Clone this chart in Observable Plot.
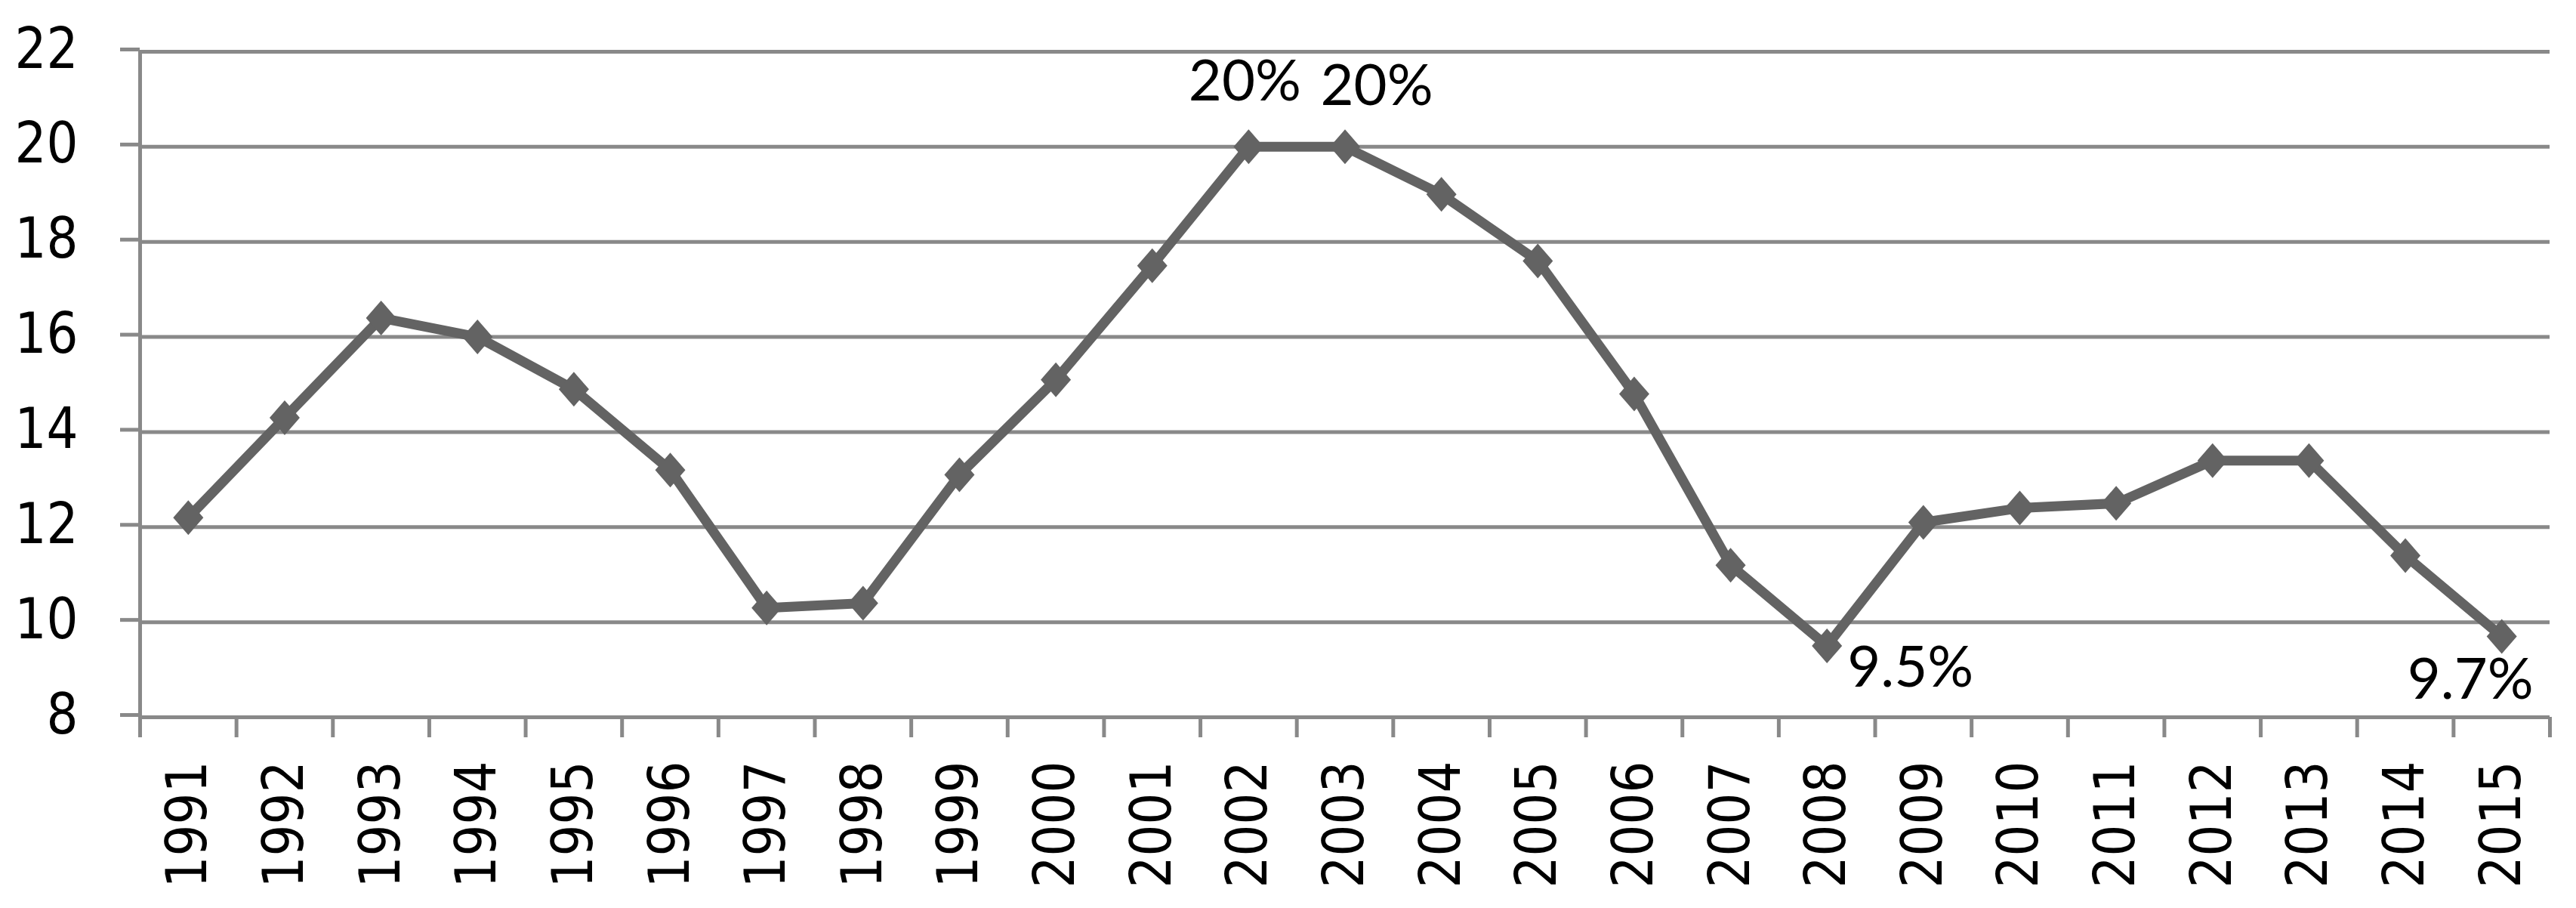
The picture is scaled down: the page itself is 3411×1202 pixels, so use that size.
<!DOCTYPE html>
<html><head><meta charset="utf-8">
<script src="https://cdn.jsdelivr.net/npm/d3@7"></script>
<script src="https://cdn.jsdelivr.net/npm/@observablehq/plot@0.6"></script>
<style>html,body{margin:0;padding:0;background:#fff;}</style>
</head><body><div id="chart"></div>
<script>
const years = [1991,1992,1993,1994,1995,1996,1997,1998,1999,2000,2001,2002,2003,2004,2005,2006,2007,2008,2009,2010,2011,2012,2013,2014,2015];
const values = [12.2,14.3,16.4,16.0,14.9,13.2,10.3,10.4,13.1,15.1,17.5,20,20,19.0,17.6,14.8,11.2,9.5,12.1,12.4,12.5,13.4,13.4,11.4,9.7];
const yTicks = [8,10,12,14,16,18,20,22];
const labelYears = [2002,2003,2008,2015];
const labelTexts = ["20%","20%","9.5%","9.7%"];

const data = years.map((year, i) => ({year, value: values[i]}));
const labels = labelYears.map((year, i) => ({year, value: values[years.indexOf(year)], text: labelTexts[i]}));
const bounds = [years[0] - 0.5, ...years.map(y => y + 0.5)];

const gridColor = "#898989";
const lineColor = "#636363";
const diamond = {
  draw(ctx, size) {
    const r = Math.sqrt(size / Math.PI);
    ctx.moveTo(0, -r * 1.15);
    ctx.lineTo(r, 0);
    ctx.lineTo(0, r * 1.15);
    ctx.lineTo(-r, 0);
    ctx.closePath();
  }
};
const axisFont = "'DejaVu Sans', sans-serif";
const labelFont = {fontFamily: "Lato", fontSize: 76, fill: "black", lineAnchor: "bottom"};

const chart = Plot.plot({
  width: 3411, height: 1202,
  marginLeft: 185, marginRight: 35, marginTop: 68, marginBottom: 253,
  style: {fontFamily: axisFont, background: "white", color: "black", overflow: "visible"},
  x: {type: "linear", domain: [bounds[0], bounds[bounds.length - 1]]},
  y: {domain: [8, 22]},
  marks: [
    Plot.ruleY(yTicks, {stroke: gridColor, strokeWidth: 5}),
    Plot.ruleX([bounds[0]], {stroke: gridColor, strokeWidth: 5}),
    Plot.axisY({ticks: yTicks, tickSize: 26, tickPadding: 56, stroke: gridColor, strokeWidth: 5, fill: "black", fontSize: 75, dy: -3, tickFormat: d => String(d), label: null}),
    Plot.axisX({ticks: bounds, tickSize: 27, stroke: gridColor, strokeWidth: 5, tickFormat: () => "", label: null}),
    Plot.axisX({ticks: years, tickSize: 0, tickPadding: 58, tickRotate: -90, fontSize: 75, fill: "black", tickFormat: d => String(d), label: null}),
    Plot.line(data, {x: "year", y: "value", stroke: lineColor, strokeWidth: 13}),
    Plot.dot(data, {x: "year", y: "value", symbol: diamond, r: 20, fill: lineColor}),
    Plot.text([labels[0]], {x: "year", y: "value", text: "text", ...labelFont, dx: -5, dy: -61}),
    Plot.text([labels[1]], {x: "year", y: "value", text: "text", ...labelFont, dx: 42, dy: -55}),
    Plot.text([labels[2]], {x: "year", y: "value", text: "text", ...labelFont, textAnchor: "start", dx: 27, dy: 54}),
    Plot.text([labels[3]], {x: "year", y: "value", text: "text", ...labelFont, textAnchor: "end", dx: 42, dy: 82})
  ]
});
// Narrow the axis digits slightly (the original uses a condensed face)
for (const t of chart.querySelectorAll("g[aria-label$='tick label'] text")) {
  const tr = t.getAttribute("transform");
  if (tr) {
    t.setAttribute("transform", tr + " scale(0.88,1)");
  } else {
    const x = parseFloat(t.getAttribute("x")) || 0;
    t.removeAttribute("x");
    t.setAttribute("transform", `translate(${x},0) scale(0.88,1)`);
  }
}
document.getElementById("chart").appendChild(chart);
</script>
</body></html>
